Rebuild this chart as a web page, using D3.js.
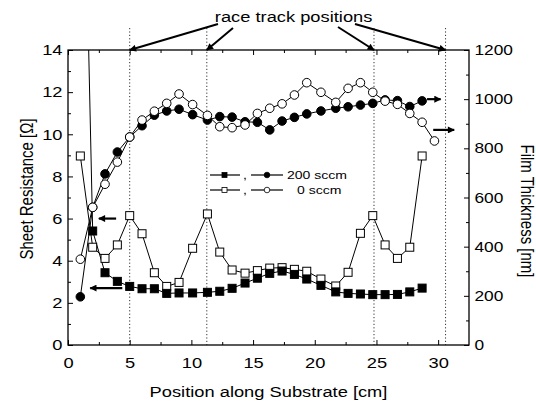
<!DOCTYPE html>
<html>
<head>
<meta charset="utf-8">
<script src="https://cdn.jsdelivr.net/npm/d3@7"></script>
<style>
  body { margin: 0; background: #fff; }
  svg { display: block; }
  text { font-family: "Liberation Sans", Arial, Helvetica, sans-serif; fill: #000; }
</style>
</head>
<body>
<svg id="chart" width="536" height="405"></svg>
<script>
// Measurement positions along the substrate [cm]
const positions = [1, 2, 3, 4, 5, 6, 7, 8, 9, 10.1, 11.3, 12.3, 13.3, 14.35, 15.35, 16.35, 17.35, 18.35, 19.35, 20.5, 21.7, 22.7, 23.7, 24.7, 25.7, 26.7, 27.7, 28.7, 29.7];

// Sheet resistance [Ohm]
const sheetRes200 = [32, 5.41, 3.43, 3.02, 2.78, 2.67, 2.67, 2.45, 2.47, 2.47, 2.50, 2.55, 2.69, 2.94, 3.17, 3.40, 3.51, 3.35, 3.13, 2.83, 2.52, 2.45, 2.42, 2.39, 2.39, 2.40, 2.52, 2.70];
const sheetRes0 = [8.97, 4.64, 4.11, 4.75, 6.14, 5.28, 3.43, 2.78, 2.97, 4.59, 6.22, 4.41, 3.56, 3.41, 3.53, 3.65, 3.67, 3.59, 3.50, 3.13, 2.80, 3.45, 5.30, 6.14, 4.75, 4.11, 4.64, 8.97];

// Film thickness [nm]
const thick200 = [196, 560, 696, 785, 846, 892, 935, 952, 959, 937, 915, 929, 927, 908, 906, 875, 911, 926, 940, 952, 963, 969, 976, 983, 997, 994, 970, 993];
const thick0 = [349, 560, 654, 744, 846, 915, 951, 983, 1021, 978, 934, 888, 884, 895, 942, 963, 981, 1017, 1067, 1028, 987, 1044, 1067, 1028, 992, 979, 942, 906, 830];

// Race track positions [cm]
const trackPositions = [5, 11.25, 24.8, 30.6];

// Axis ticks
const xTicks = [0, 5, 10, 15, 20, 25, 30];
const xMinor = [2.5, 7.5, 12.5, 17.5, 22.5, 27.5];
const leftTicks = [0, 2, 4, 6, 8, 10, 12, 14];
const leftMinor = [1, 3, 5, 7, 9, 11, 13];
const rightTicks = [0, 200, 400, 600, 800, 1000, 1200];
const rightMinor = [100, 300, 500, 700, 900, 1100];

const svg = d3.select("#chart");
const L = 68, R = 469, T = 50, B = 345;
const SX = 1.22;           // horizontal glyph stretch
const FONT = 15;

const x = d3.scaleLinear().domain([0, 32.5]).range([L, R]);
const yL = d3.scaleLinear().domain([0, 14]).range([B, T]);
const yR = d3.scaleLinear().domain([0, 1200]).range([B, T]);

const defs = svg.append("defs");
defs.append("clipPath").attr("id", "plotClip")
  .append("rect").attr("x", L).attr("y", T).attr("width", R - L).attr("height", B - T);
defs.append("marker").attr("id", "head")
  .attr("viewBox", "0 0 10 10").attr("refX", 9).attr("refY", 5)
  .attr("markerWidth", 9).attr("markerHeight", 7).attr("markerUnits", "userSpaceOnUse")
  .attr("orient", "auto")
  .append("path").attr("d", "M0,0 L10,5 L0,10 Z").attr("fill", "#000");

// Race track position guides
svg.append("g").selectAll("line").data(trackPositions).join("line")
  .attr("x1", d => x(d)).attr("x2", d => x(d))
  .attr("y1", 28).attr("y2", B)
  .attr("stroke", "#333").attr("stroke-width", 1).attr("stroke-dasharray", "1.2,2.2");

// Axes
function styleAxis(g) {
  g.select(".domain").remove();
  g.selectAll(".tick line").attr("stroke", "#000").attr("stroke-width", 1);
  g.selectAll("text").attr("font-size", FONT).attr("transform", `scale(${SX},1)`);
}
svg.append("g").attr("transform", `translate(0,${B})`)
  .call(d3.axisBottom(x).tickValues(xTicks).tickSizeInner(-5).tickSizeOuter(0).tickPadding(12).tickFormat(d3.format("d")))
  .call(styleAxis);
svg.append("g").attr("transform", `translate(0,${B})`)
  .call(d3.axisBottom(x).tickValues(xMinor).tickSizeInner(-3).tickSizeOuter(0).tickFormat(""))
  .call(styleAxis);
svg.append("g").attr("transform", `translate(0,${T})`)
  .call(d3.axisTop(x).tickValues(xTicks).tickSizeInner(-5).tickSizeOuter(0).tickFormat(""))
  .call(styleAxis);
svg.append("g").attr("transform", `translate(0,${T})`)
  .call(d3.axisTop(x).tickValues(xMinor).tickSizeInner(-3).tickSizeOuter(0).tickFormat(""))
  .call(styleAxis);
svg.append("g").attr("transform", `translate(${L},0)`)
  .call(d3.axisLeft(yL).tickValues(leftTicks).tickSizeInner(-5).tickSizeOuter(0).tickPadding(4.5).tickFormat(d3.format("d")))
  .call(styleAxis);
svg.append("g").attr("transform", `translate(${L},0)`)
  .call(d3.axisLeft(yL).tickValues(leftMinor).tickSizeInner(-3).tickSizeOuter(0).tickFormat(""))
  .call(styleAxis);
svg.append("g").attr("transform", `translate(${R},0)`)
  .call(d3.axisRight(yR).tickValues(rightTicks).tickSizeInner(-5).tickSizeOuter(0).tickPadding(4.5).tickFormat(d3.format("d")))
  .call(styleAxis)
  .call(g => g.selectAll("text").attr("font-size", 14.2));
svg.append("g").attr("transform", `translate(${R},0)`)
  .call(d3.axisRight(yR).tickValues(rightMinor).tickSizeInner(-3).tickSizeOuter(0).tickFormat(""))
  .call(styleAxis);

// Frame
svg.append("rect").attr("x", L).attr("y", T).attr("width", R - L).attr("height", B - T)
  .attr("fill", "none").attr("stroke", "#000").attr("stroke-width", 1.3);

// Data series
const plot = svg.append("g").attr("clip-path", "url(#plotClip)");
function series(values, yScale, shape, filled) {
  const pts = values.map((v, i) => [positions[i], v]);
  plot.append("path").datum(pts)
    .attr("fill", "none").attr("stroke", "#000").attr("stroke-width", 1)
    .attr("d", d3.line().x(d => x(d[0])).y(d => yScale(d[1])));
  const g = svg.append("g");
  const vis = pts.filter(d => d[1] <= yScale.domain()[1]);
  if (shape === "circle") {
    g.selectAll("circle").data(vis).join("circle")
      .attr("cx", d => x(d[0])).attr("cy", d => yScale(d[1])).attr("r", 4.3)
      .attr("fill", filled ? "#000" : "#fff").attr("stroke", "#000").attr("stroke-width", 1);
  } else {
    g.selectAll("rect").data(vis).join("rect")
      .attr("x", d => x(d[0]) - 4).attr("y", d => yScale(d[1]) - 4)
      .attr("width", 8).attr("height", 8)
      .attr("fill", filled ? "#000" : "#fff").attr("stroke", "#000").attr("stroke-width", 1);
  }
}
series(thick200, yR, "circle", true);
series(thick0, yR, "circle", false);
series(sheetRes0, yL, "square", false);
series(sheetRes200, yL, "square", true);

// Arrows pointing each curve to its axis
const axisArrows = [
  { x1: x(3.9), x2: x(2.5), y: yL(6.0) },
  { x1: x(4.4), x2: x(1.8), y: yL(2.7) },
  { x1: x(29.1), x2: x(30.2), y: yR(1000) },
  { x1: x(29.6), x2: x(31.3), y: yR(875) }
];
svg.append("g").selectAll("line").data(axisArrows).join("line")
  .attr("x1", d => d.x1).attr("x2", d => d.x2).attr("y1", d => d.y).attr("y2", d => d.y)
  .attr("stroke", "#000").attr("stroke-width", 2.2).attr("marker-end", "url(#head)");

// Annotation
svg.append("text").attr("transform", `translate(293.6,22) scale(${SX},1)`)
  .attr("text-anchor", "middle").attr("font-size", FONT).text("race track positions");
const annStarts = [[218, 24], [233, 28], [338, 27], [355, 24]];
svg.append("g").selectAll("line").data(trackPositions).join("line")
  .attr("x1", (d, i) => annStarts[i][0]).attr("y1", (d, i) => annStarts[i][1])
  .attr("x2", d => x(d)).attr("y2", T)
  .attr("stroke", "#000").attr("stroke-width", 2).attr("marker-end", "url(#head)");

// Legend
const legendRows = [
  { y: 175, filled: true, label: "200 sccm", tx: 287 },
  { y: 190, filled: false, label: "0 sccm", tx: 297 }
];
const lg = svg.append("g");
legendRows.forEach(r => {
  const fill = r.filled ? "#000" : "#fff";
  lg.append("path").attr("d", `M210,${r.y}H240`).attr("stroke", "#000").attr("stroke-width", 1.2).attr("fill", "none");
  lg.append("rect").attr("x", 222).attr("y", r.y - 2.5).attr("width", 5).attr("height", 5)
    .attr("fill", fill).attr("stroke", "#000").attr("stroke-width", 0.8);
  lg.append("text").attr("transform", `translate(243,${r.y + 4}) scale(${SX},1)`)
    .attr("font-size", 11.5).text(",");
  lg.append("path").attr("d", `M251,${r.y}H283`).attr("stroke", "#000").attr("stroke-width", 1.2).attr("fill", "none");
  lg.append("circle").attr("cx", 267).attr("cy", r.y).attr("r", 2.8)
    .attr("fill", fill).attr("stroke", "#000").attr("stroke-width", 0.8);
  lg.append("text").attr("transform", `translate(${r.tx},${r.y + 4}) scale(${SX},1)`)
    .attr("font-size", 11.5).text(r.label);
});

// Axis titles
svg.append("text").attr("transform", `translate(268.5,397) scale(${SX},1)`)
  .attr("text-anchor", "middle").attr("font-size", FONT).text("Position along Substrate [cm]");
svg.append("text").attr("transform", `translate(33,189) rotate(-90) scale(1,${SX})`)
  .attr("text-anchor", "middle").attr("font-size", FONT).text("Sheet Resistance [\u03A9]");
svg.append("text").attr("transform", `translate(521,211) rotate(90) scale(1,${SX})`)
  .attr("text-anchor", "middle").attr("font-size", FONT).text("Film Thickness [nm]");
</script>
</body>
</html>
